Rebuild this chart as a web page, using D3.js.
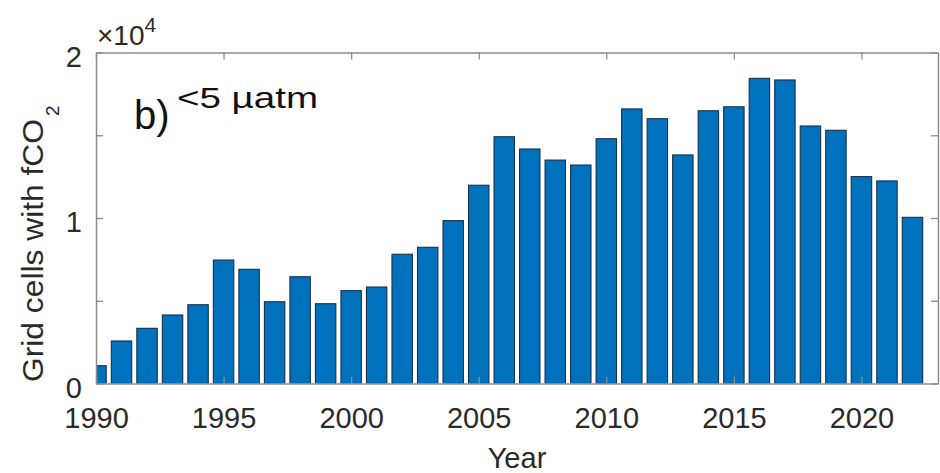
<!DOCTYPE html>
<html>
<head>
<meta charset="utf-8">
<script src="https://cdn.jsdelivr.net/npm/d3@7"></script>
<style>
  html, body { margin: 0; padding: 0; background: #ffffff; }
  svg { display: block; font-family: "Liberation Sans", Arial, Helvetica, sans-serif; }
</style>
</head>
<body>
<svg id="chart" width="940" height="473"></svg>
<script>
// Annual count of grid cells with fCO2 (uncertainty < 5 µatm)
const years = [1990, 1991, 1992, 1993, 1994, 1995, 1996, 1997, 1998, 1999,
               2000, 2001, 2002, 2003, 2004, 2005, 2006, 2007, 2008, 2009,
               2010, 2011, 2012, 2013, 2014, 2015, 2016, 2017, 2018, 2019,
               2020, 2021, 2022];
const cellCounts = [1075, 2570, 3335, 4140, 4760, 7460, 6900, 4940, 6450, 4820,
                    5610, 5830, 7810, 8230, 9840, 11980, 14910, 14170, 13500, 13200,
                    14790, 16590, 16000, 13810, 16480, 16720, 18440, 18340, 15560, 15300,
                    12500, 12240, 10040];

const xTicks = [1990, 1995, 2000, 2005, 2010, 2015, 2020];
const yTicks = [0, 5000, 10000, 15000, 20000];
const yTickLabels = ["0", "", "1", "", "2"];
const xDomain = [1990, 2023];
const yDomain = [0, 20000];
const barWidthYears = 0.8;

const svg = d3.select("#chart");
const box = { left: 96, right: 938, top: 52.5, bottom: 383.5 };

const x = d3.scaleLinear().domain(xDomain).range([box.left, box.right]);
const y = d3.scaleLinear().domain(yDomain).range([box.bottom, box.top]);

const axisColor = "#8c8c8c";
const textColor = "#2a2a2a";
const tickLen = 7;

// clip bars to the axes box
svg.append("defs").append("clipPath").attr("id", "plotClip")
  .append("rect")
  .attr("x", box.left).attr("y", box.top)
  .attr("width", box.right - box.left).attr("height", box.bottom - box.top);

// bars
svg.append("g").attr("clip-path", "url(#plotClip)")
  .selectAll("rect").data(years).join("rect")
  .attr("x", (d) => x(d - barWidthYears / 2))
  .attr("width", (d) => x(d + barWidthYears / 2) - x(d - barWidthYears / 2))
  .attr("y", (d, i) => y(cellCounts[i]))
  .attr("height", (d, i) => y(0) - y(cellCounts[i]))
  .attr("fill", "#0072BD")
  .attr("stroke", "#17304a")
  .attr("stroke-width", 1.1);

// axes: bottom and left with labels, top and right mirrored ticks
const bottomAxis = d3.axisBottom(x).tickValues(xTicks).tickFormat(d3.format("d"))
  .tickSizeInner(-tickLen).tickSizeOuter(0).tickPadding(23.5);
const topAxis = d3.axisTop(x).tickValues(xTicks).tickFormat("")
  .tickSizeInner(-tickLen).tickSizeOuter(0);
const leftAxis = d3.axisLeft(y).tickValues(yTicks).tickFormat((d, i) => yTickLabels[i])
  .tickSizeInner(-tickLen).tickSizeOuter(0).tickPadding(14);
const rightAxis = d3.axisRight(y).tickValues(yTicks).tickFormat("")
  .tickSizeInner(-tickLen).tickSizeOuter(0);

function styleAxis(g) {
  g.select(".domain").attr("stroke", axisColor).attr("stroke-width", 1.5);
  g.selectAll(".tick line").attr("stroke", axisColor).attr("stroke-width", 1.3);
  g.selectAll(".tick text").attr("fill", textColor)
    .attr("font-size", 29).attr("font-family", "Liberation Sans, Arial, sans-serif");
}

svg.append("g").attr("transform", `translate(0,${box.bottom})`).call(bottomAxis).call(styleAxis)
  .selectAll(".tick text").attr("dy", "0.71em");
svg.append("g").attr("transform", `translate(0,${box.top})`).call(topAxis).call(styleAxis);
svg.append("g").attr("transform", `translate(${box.left},0)`).call(leftAxis).call(styleAxis)
  .selectAll(".tick text").attr("dy", "0.47em").attr("x", -14);
svg.append("g").attr("transform", `translate(${box.right},0)`).call(rightAxis).call(styleAxis);

// exponent multiplier
const expo = svg.append("text")
  .attr("x", 97).attr("y", 45)
  .attr("fill", textColor).attr("font-size", 28);
expo.append("tspan").text("\u00D710");
expo.append("tspan").attr("font-size", 21).attr("dy", -13).text("4");

// x axis title
svg.append("text")
  .attr("x", (box.left + box.right) / 2).attr("y", 468)
  .attr("text-anchor", "middle")
  .attr("fill", textColor).attr("font-size", 29)
  .text("Year");

// y axis title with subscript
const yTitle = svg.append("g").attr("transform", "translate(43,382) rotate(-90)");
yTitle.append("text")
  .attr("x", 0).attr("y", 0)
  .attr("fill", textColor).attr("font-size", 29)
  .attr("textLength", 263).attr("lengthAdjust", "spacingAndGlyphs")
  .text("Grid cells with fCO");
yTitle.append("text")
  .attr("x", 266).attr("y", 16)
  .attr("fill", textColor).attr("font-size", 19)
  .text("2");

// panel annotation
svg.append("text")
  .attr("x", 134).attr("y", 129)
  .attr("fill", "#111111").attr("font-size", 40)
  .text("b)");
svg.append("text")
  .attr("x", 177).attr("y", 108)
  .attr("fill", "#111111").attr("font-size", 29)
  .attr("textLength", 141).attr("lengthAdjust", "spacingAndGlyphs")
  .text("<5 \u00B5atm");
</script>
</body>
</html>
